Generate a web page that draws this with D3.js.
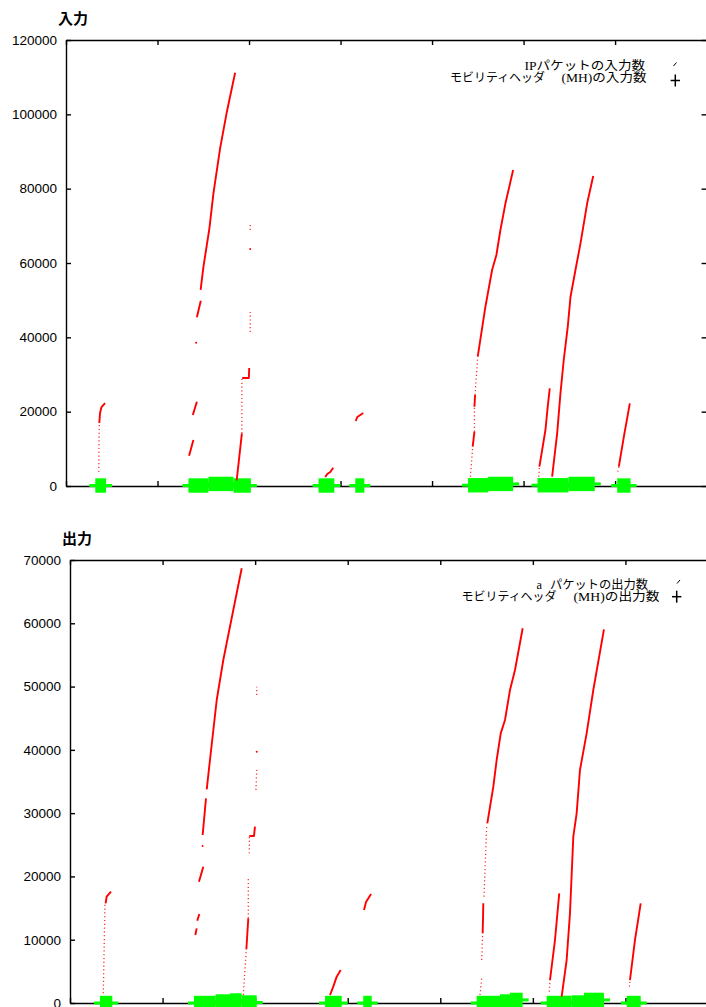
<!DOCTYPE html>
<html>
<head>
<meta charset="utf-8">
<script src="https://cdn.jsdelivr.net/npm/d3@7/dist/d3.min.js"></script>
<style>
  body { margin: 0; background: #fff; }
</style>
</head>
<body>
<div id="chart"></div>
<script>
// time axis (no labels in the original, only ticks)
const xTicks = [0, 100, 200, 300, 400, 500, 600, 700];
const inTicks = [0, 20000, 40000, 60000, 80000, 100000, 120000];
const outTicks = [0, 10000, 20000, 30000, 40000, 50000, 60000, 70000];

// 入力: IP packets (red), dense runs of points
const inDense = [
    [[36.4, 16950], [37.2, 19640], [38.8, 21250], [42.7, 22330]],
    [[134.5, 8150], [139.2, 12380]],
    [[138.6, 19100], [143.0, 22680]],
    [[143.0, 45390], [147.3, 49860]],
    [[147.1, 52740], [150.2, 59000], [156.7, 69340], [161.1, 78750], [168.4, 90860], [175.8, 100710], [184.8, 111200]],
    [[186.5, 1500], [192.2, 14180]],
    [[192.5, 29060], [199.8, 29060], [200.2, 31750]],
    [[283.3, 2420], [285.5, 3230], [288.8, 3770], [292.0, 4920]],
    [[316.6, 17490], [318.3, 18565], [324.8, 19640]],
    [[444.4, 10570], [446.3, 14610]],
    [[446.3, 21340], [447.0, 24500]],
    [[449.9, 34790], [458.3, 48240], [465.6, 58120], [470.3, 62150], [474.7, 68880], [480.2, 76060], [488.6, 85020]],
    [[517.3, 5190], [523.9, 15070], [526.4, 21340], [528.6, 26290]],
    [[531.2, 2500], [536.7, 14180], [540.3, 24940], [543.9, 33900], [548.3, 42860], [551.3, 50930], [556.7, 58120], [562.2, 65300], [569.5, 76060], [576.1, 83410]],
    [[604.1, 5190], [609.6, 13260], [616.1, 22250]]
];
// 入力: sparse runs (thin dotted)
const inSparse = [
    [[35.8, 3800], [36.1, 12400], [36.4, 16950]],
    [[192.2, 14180], [192.2, 29060]],
    [[201.3, 41430], [201.3, 46820]],
    [[201.3, 68880], [201.3, 70760]],
    [[441.9, 2500], [444.4, 10570]],
    [[446.3, 14610], [446.3, 21340]],
    [[447.0, 24500], [449.9, 34790]],
    [[516.6, 2500], [517.3, 5190]],
    [[603.0, 3850], [604.1, 5190]]
];
const inDots = [[142.2, 38560], [201.3, 63770]];
// 入力: mobility header bursts [start, end, count]
const inMH = [
    [32.0, 43.8, 130],
    [133.8, 155.6, 130], [155.6, 183.0, 560], [183.0, 202.0, 130],
    [276.0, 293.2, 130],
    [316.1, 326.0, 130],
    [439.3, 461.2, 200], [461.2, 488.6, 560],
    [515.2, 549.0, 200], [549.0, 577.8, 560],
    [602.3, 616.9, 130]
];

// 出力
const outDense = [
    [[38.5, 15750], [39.6, 16800], [44.3, 17590]],
    [[135.4, 10740], [136.8, 11800]],
    [[137.5, 13000], [139.7, 14060]],
    [[139.3, 19170], [144.0, 21540]],
    [[143.3, 26550], [146.9, 32340]],
    [[147.7, 33770], [151.2, 38400], [158.5, 47880], [165.6, 54200], [176.4, 62100], [185.5, 68690]],
    [[190.5, 8500], [192.6, 13380]],
    [[193.7, 26390], [198.8, 26390], [199.8, 27860]],
    [[280.9, 1260], [284.4, 2580], [288.1, 4160], [292.4, 5210]],
    [[317.6, 14700], [319.8, 15960], [325.2, 17220]],
    [[445.8, 11010], [446.5, 15750]],
    [[450.8, 28390], [457.3, 34180], [460.9, 38400], [465.3, 42610], [469.9, 44720], [475.3, 49460], [480.7, 52620], [489.0, 59210]],
    [[518.5, 3630], [523.9, 9950], [528.5, 17330]],
    [[531.1, 1000], [536.5, 6790], [540.1, 14170], [543.7, 26280], [547.3, 29970], [550.9, 36820], [558.1, 42610], [565.3, 49460], [576.8, 59050]],
    [[604.9, 3630], [610.3, 9950], [616.5, 15750]]
];
const outSparse = [
    [[36.0, 1530], [37.8, 15750], [38.5, 15750]],
    [[187.2, 1260], [190.5, 8500]],
    [[192.6, 13380], [192.6, 19960]],
    [[193.7, 23650], [193.7, 26390]],
    [[200.9, 33660], [201.7, 36820]],
    [[201.7, 48670], [201.7, 49980]],
    [[442.9, 1260], [444.7, 3900]],
    [[444.7, 6790], [445.8, 11010]],
    [[447.2, 16800], [450.1, 27860]],
    [[517.7, 1790], [518.5, 3630]],
    [[604.2, 2580], [604.9, 3630]]
];
const outDots = [[143.3, 24800], [201.7, 39710]];
const outMH = [
    [32.4, 45.7, 0],
    [133.9, 157.4, 0], [157.4, 172.8, 237], [172.8, 185.5, 395], [185.5, 201.7, 80],
    [275.5, 293.5, 0],
    [316.8, 325.9, 0],
    [439.3, 464.5, 0], [464.5, 475.3, 237], [475.3, 489.0, 490],
    [514.9, 529.3, 0], [529.3, 541.9, 15], [541.9, 555.2, 80], [555.2, 576.8, 490],
    [601.4, 616.5, 0]
];

const svg = d3.select("#chart").append("svg")
    .attr("width", 706)
    .attr("height", 1007);

function drawPanel(p) {
    const x = d3.scaleLinear().domain([0, 700]).range([p.left, p.right]);
    const y = d3.scaleLinear().domain([0, p.yMax]).range([p.bottom, p.top]);
    const g = svg.append("g");

    const styleAxis = a => {
        a.selectAll("path, line").attr("stroke", "#000").attr("stroke-width", 1.4);
        a.selectAll("text")
            .attr("fill", "#000")
            .style("font-family", "'Liberation Sans', Arial, sans-serif")
            .style("font-size", "13.5px");
    };

    g.append("g")
        .attr("transform", `translate(0,${p.bottom})`)
        .call(d3.axisBottom(x).tickValues(xTicks).tickSize(-5).tickSizeOuter(0).tickFormat(""))
        .call(styleAxis);
    g.append("g")
        .attr("transform", `translate(0,${p.top})`)
        .call(d3.axisTop(x).tickValues(xTicks).tickSize(-5).tickSizeOuter(0).tickFormat(""))
        .call(styleAxis);
    g.append("g")
        .attr("transform", `translate(${p.left},0)`)
        .call(d3.axisLeft(y).tickValues(p.ticks).tickSize(-5).tickSizeOuter(0).tickPadding(9).tickFormat(d3.format("d")))
        .call(styleAxis);
    g.append("g")
        .attr("transform", `translate(${p.right},0)`)
        .call(d3.axisRight(y).tickValues(p.ticks).tickSize(-5).tickSizeOuter(0).tickFormat(""))
        .call(styleAxis);

    // title
    g.append("text")
        .attr("x", p.left - 8)
        .attr("y", p.top - 16)
        .style("font-family", "'Noto Sans CJK JP', sans-serif")
        .style("font-size", "15px")
        .style("font-weight", "bold")
        .text(p.title);

    // mobility header bursts: many "+" points merge into blocks
    const mh = g.append("g").attr("fill", "#00ff00");
    mh.selectAll(".arm")
        .data(p.mh)
        .enter()
        .append("rect")
        .attr("class", "arm")
        .attr("x", d => x(d[0]) - 6)
        .attr("y", d => y(d[2]) - 1.5)
        .attr("width", d => x(d[1]) - x(d[0]) + 12)
        .attr("height", 3);
    mh.selectAll(".block")
        .data(p.mh)
        .enter()
        .append("rect")
        .attr("class", "block")
        .attr("x", d => x(d[0]))
        .attr("y", d => y(d[2]) - 7.2)
        .attr("width", d => x(d[1]) - x(d[0]))
        .attr("height", 14.4);

    // IP packets
    const line = d3.line().x(d => x(d[0])).y(d => y(d[1]));
    g.append("g").selectAll("path")
        .data(p.sparse)
        .enter()
        .append("path")
        .attr("d", line)
        .attr("fill", "none")
        .attr("stroke", "#ff3030")
        .attr("stroke-width", 1.3)
        .attr("stroke-dasharray", "1.2 2.6");
    g.append("g").selectAll("path")
        .data(p.dense)
        .enter()
        .append("path")
        .attr("d", line)
        .attr("fill", "none")
        .attr("stroke", "#ff0000")
        .attr("stroke-width", 1.9)
        .attr("stroke-linejoin", "round");
    g.append("g").selectAll("circle")
        .data(p.dots)
        .enter()
        .append("circle")
        .attr("cx", d => x(d[0]))
        .attr("cy", d => y(d[1]))
        .attr("r", 1)
        .attr("fill", "#ff0000");

    // legend (parts: [left x, width, text])
    const lg = g.append("g")
        .style("font-family", "'Liberation Serif', 'Noto Sans CJK JP', serif")
        .style("font-size", "12px")
        .attr("fill", "#000");
    p.legend.forEach(row => {
        const t = lg.append("text").attr("y", row.y);
        row.parts.forEach(part => t.append("tspan")
            .attr("x", part[0])
            .attr("textLength", part[1])
            .attr("lengthAdjust", "spacingAndGlyphs")
            .text(part[2]));
    });
    const sym = p.symbols;
    lg.append("line")
        .attr("x1", sym.tick[0]).attr("y1", sym.tick[1] + 2)
        .attr("x2", sym.tick[0] + 3).attr("y2", sym.tick[1] - 1.5)
        .attr("stroke", "#000").attr("stroke-width", 1);
    lg.append("line")
        .attr("x1", sym.plus[0] - 4.7).attr("x2", sym.plus[0] + 4.7)
        .attr("y1", sym.plus[1]).attr("y2", sym.plus[1])
        .attr("stroke", "#000").attr("stroke-width", 1.5);
    lg.append("line")
        .attr("x1", sym.plus[0]).attr("x2", sym.plus[0])
        .attr("y1", sym.plus[1] - 6).attr("y2", sym.plus[1] + 6)
        .attr("stroke", "#000").attr("stroke-width", 1.5);
}

drawPanel({
    left: 66, right: 706.6, top: 40, bottom: 486,
    yMax: 120000, ticks: inTicks, title: "入力",
    dense: inDense, sparse: inSparse, dots: inDots, mh: inMH,
    legend: [
        { y: 70, parts: [[524.5, 120.5, "IPパケットの入力数"]] },
        { y: 82, parts: [[450, 95, "モビリティヘッダ"], [561.5, 85, "(MH)の入力数"]] }
    ],
    symbols: { tick: [673.5, 64], plus: [675.3, 80.5] }
});

drawPanel({
    left: 70, right: 718, top: 560, bottom: 1003,
    yMax: 70000, ticks: outTicks, title: "出力",
    dense: outDense, sparse: outSparse, dots: outDots, mh: outMH,
    legend: [
        { y: 589, parts: [[536.5, 5.5, "a"], [550, 98, "パケットの出力数"]] },
        { y: 601, parts: [[461.5, 95, "モビリティヘッダ"], [573.5, 86, "(MH)の出力数"]] }
    ],
    symbols: { tick: [677, 581.5], plus: [676.7, 596.7] }
});
</script>
</body>
</html>
